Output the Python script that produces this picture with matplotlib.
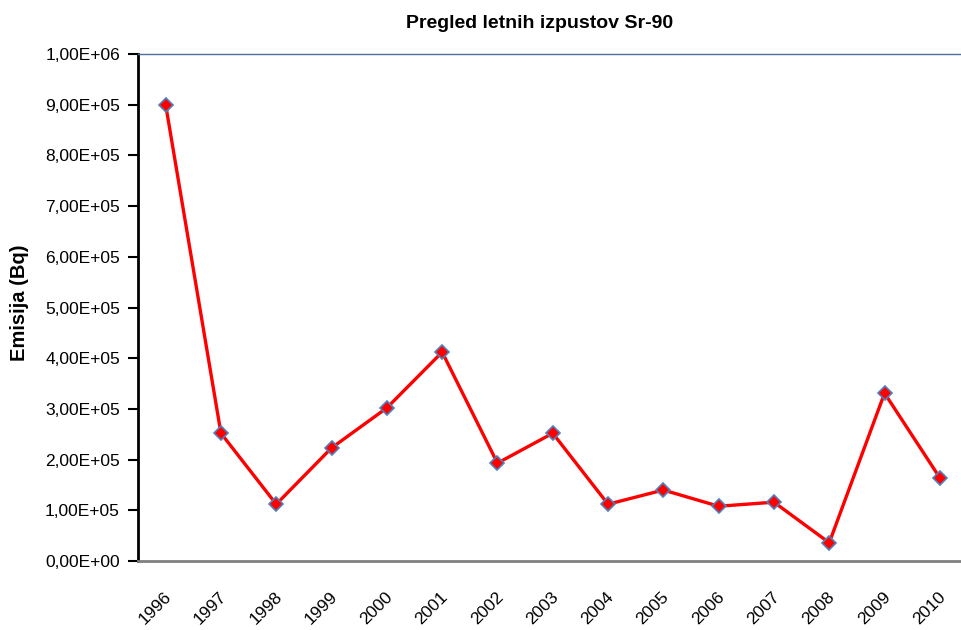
import matplotlib
matplotlib.use("Agg")
import matplotlib.pyplot as plt
from matplotlib.ticker import FuncFormatter
from matplotlib.transforms import ScaledTranslation

plt.rcParams["font.family"] = ["Liberation Sans", "DejaVu Sans"]

# annual Sr-90 emissions (Bq)
years = ["1996", "1997", "1998", "1999", "2000", "2001", "2002", "2003",
         "2004", "2005", "2006", "2007", "2008", "2009", "2010"]
emisija = [9.0e5, 2.52e5, 1.12e5, 2.23e5, 3.02e5, 4.12e5, 1.93e5, 2.52e5,
           1.12e5, 1.40e5, 1.08e5, 1.16e5, 0.36e5, 3.31e5, 1.64e5]

W, H = 961, 630
fig = plt.figure(figsize=(W / 100, H / 100), dpi=100)
# plot area runs slightly past the right edge, like the original
ax = fig.add_axes([138 / W, 69 / H, (967.5 - 138) / W, 507 / H])

x = list(range(len(years)))
ax.plot(x, emisija, color="red", lw=2.4, zorder=2)
ax.plot(x, emisija, ls="none", marker="D", ms=7, mfc="red",
        mec="#4f81bd", mew=1.2, zorder=3)

ax.set_xlim(-0.5, len(years) - 0.5)
ax.set_ylim(0, 1e6)
ax.set_yticks([i * 1e5 for i in range(11)])
ax.yaxis.set_major_formatter(FuncFormatter(
    lambda v, p: ("%.2E" % v).replace(".", ",")))

# year labels: rotated, placed well below the axis and a bit left of each point
ax.set_xticks(x)
ax.set_xticklabels([])
shift = ax.get_xaxis_transform() + ScaledTranslation(-0.02, -0.28,
                                                     fig.dpi_scale_trans)
for i, yr in zip(x, years):
    ax.text(i, 0, yr, transform=shift, rotation=45, ha="right", va="top",
            rotation_mode="anchor", fontsize=12.5, clip_on=False)

ax.tick_params(axis="x", length=0)
ax.tick_params(axis="y", length=7, width=1.5, direction="out",
               labelsize=12.5, pad=6)

ax.spines["right"].set_visible(False)
ax.spines["left"].set_linewidth(2)
ax.spines["left"].set_color("black")
ax.spines["bottom"].set_linewidth(2)
ax.spines["bottom"].set_color("#808080")
ax.spines["top"].set_linewidth(1)
ax.spines["top"].set_color("#4f6fa0")

fig.text(540 / W, 1 - 23 / H, "Pregled letnih izpustov Sr-90",
         ha="center", va="center", fontsize=14, fontweight="bold")
ax.set_ylabel("Emisija (Bq)", fontsize=14.5, fontweight="bold")
ax.yaxis.set_label_coords(-0.132, 0.509)

fig.savefig("out.png", dpi=100)
